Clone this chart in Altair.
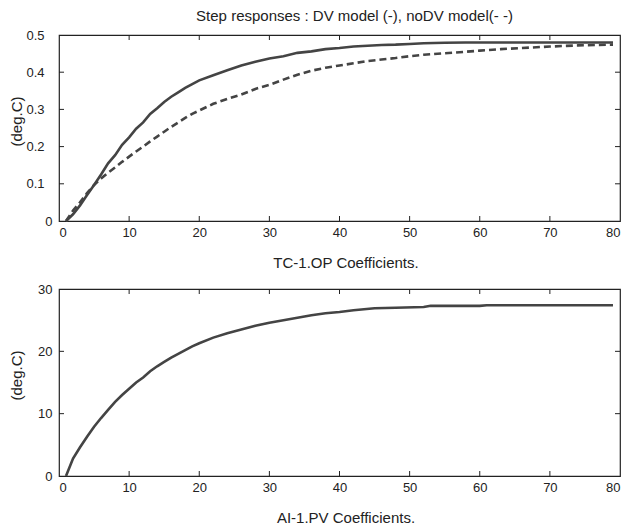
import altair as alt
import pandas as pd

# ---- data ----
dv_x = [1, 2, 3, 4, 5, 6, 7, 8, 9, 10, 11, 12, 13, 14, 15, 16, 17, 18, 19, 20,
        22, 24, 26, 28, 30, 32, 34, 36, 38, 40, 42, 44, 46, 48, 50, 52, 55, 58,
        60, 65, 70, 75, 79]
dv_y = [0.0, 0.018, 0.042, 0.07, 0.097, 0.125, 0.155, 0.177, 0.205, 0.225, 0.248,
        0.265, 0.288, 0.303, 0.32, 0.334, 0.346, 0.358, 0.368, 0.378, 0.392, 0.405,
        0.418, 0.428, 0.437, 0.443, 0.452, 0.456, 0.462, 0.465, 0.469, 0.471, 0.473,
        0.474, 0.476, 0.478, 0.479, 0.48, 0.48, 0.48, 0.48, 0.48, 0.48]

nodv_x = [1, 2, 3, 4, 5, 6, 7, 8, 9, 10, 11, 12, 13, 14, 15, 16, 17, 18, 19, 20,
          22, 24, 26, 28, 30, 32, 34, 36, 38, 40, 42, 44, 46, 48, 50, 52, 55, 58,
          60, 63, 66, 70, 74, 79]
nodv_y = [0.0, 0.028, 0.05, 0.075, 0.097, 0.114, 0.13, 0.144, 0.159, 0.173, 0.187,
          0.2, 0.214, 0.227, 0.24, 0.253, 0.265, 0.277, 0.288, 0.297, 0.315, 0.328,
          0.34, 0.355, 0.366, 0.38, 0.393, 0.404, 0.412, 0.418, 0.424, 0.43, 0.434,
          0.438, 0.443, 0.447, 0.451, 0.455, 0.458, 0.462, 0.465, 0.469, 0.472, 0.474]

ai_x = [1, 2, 3, 4, 5, 6, 7, 8, 9, 10, 11, 12, 13, 14, 15, 16, 17, 18, 19, 20,
        22, 24, 26, 28, 30, 32, 34, 36, 38, 40, 42, 45, 48, 52, 53, 60, 61, 70, 79]
ai_y = [0.0, 2.8, 4.6, 6.3, 7.9, 9.3, 10.6, 11.9, 13.0, 14.0, 15.0, 15.8, 16.8,
        17.6, 18.3, 19.0, 19.6, 20.2, 20.8, 21.3, 22.2, 22.9, 23.5, 24.1, 24.6,
        25.0, 25.4, 25.8, 26.1, 26.3, 26.6, 26.9, 27.0, 27.1, 27.3, 27.3, 27.4,
        27.4, 27.4]

x_ticks = [0, 10, 20, 30, 40, 50, 60, 70, 80]
top_y_ticks = [0, 0.1, 0.2, 0.3, 0.4, 0.5]
bot_y_ticks = [0, 10, 20, 30]

title_text = "Step responses : DV model (-), noDV model(- -)"
top_xlabel = "TC-1.OP Coefficients."
bot_xlabel = "AI-1.PV Coefficients."
ylabel = "(deg.C)"

# ---- styling ----
W = 561
FONT = "Liberation Sans"
LFS = 13
TFS = 15
INK = "#222222"
LINE = "#444444"
TICK = 5


def panel(lines, ymax, yticks, xlabel, fmt, ypad, height, title=None):
    xs = alt.Scale(domain=[0, 80], nice=False, zero=False)
    ys = alt.Scale(domain=[0, ymax], nice=False, zero=False)
    xaxis = alt.Axis(values=x_ticks, title=xlabel, ticks=False, domain=False,
                     grid=False, labelPadding=5, minExtent=20, maxExtent=20,
                     titlePadding=14, titleX=W / 2 + 6)
    yaxis = alt.Axis(values=yticks, title=ylabel, ticks=False, domain=False,
                     grid=False, format=fmt, labelPadding=ypad,
                     minExtent=35, maxExtent=35, titlePadding=0, titleY=86)
    X = alt.X("x:Q", scale=xs, axis=xaxis, title=xlabel)
    Y = alt.Y("y:Q", scale=ys, axis=yaxis, title=ylabel)
    layers = []
    for xv, yv, dash in lines:
        df = pd.DataFrame({"x": xv, "y": yv})
        kw = dict(color=LINE, strokeWidth=2.6)
        if dash:
            kw["strokeDash"] = [7, 4]
        layers.append(alt.Chart(df).mark_line(**kw).encode(x=X, y=Y))

    xt = pd.DataFrame({"x": x_ticks[1:-1]})
    yt = pd.DataFrame({"y": yticks[1:-1]})
    rule = dict(color=INK, strokeWidth=1)
    layers.append(alt.Chart(xt).mark_rule(**rule).encode(
        x=X, y=alt.value(height), y2=alt.value(height - TICK)))
    layers.append(alt.Chart(xt).mark_rule(**rule).encode(
        x=X, y=alt.value(0), y2=alt.value(TICK)))
    layers.append(alt.Chart(yt).mark_rule(**rule).encode(
        y=Y, x=alt.value(0), x2=alt.value(TICK)))
    layers.append(alt.Chart(yt).mark_rule(**rule).encode(
        y=Y, x=alt.value(W), x2=alt.value(W - TICK)))

    props = dict(width=W, height=height)
    if title:
        props["title"] = alt.TitleParams(title, font=FONT, fontSize=TFS,
                                         fontWeight="normal", color=INK,
                                         anchor="middle", offset=5, dx=15)
    return alt.layer(*layers).properties(**props)


top = panel([(dv_x, dv_y, False), (nodv_x, nodv_y, True)], 0.5, top_y_ticks,
            top_xlabel, ".1~f",
            {"condition": {"test": "datum.value === 0", "value": 7}, "value": 15},
            186, title=title_text)
bottom = panel([(ai_x, ai_y, False)], 30, bot_y_ticks, bot_xlabel, "d", 7, 187)

chart = alt.vconcat(top, bottom, spacing=11).properties(
    padding=0, background="white"
).configure_view(
    stroke=INK, strokeWidth=1.2
).configure_axis(
    labelFont=FONT, labelFontSize=LFS, labelColor=INK,
    titleFont=FONT, titleFontSize=TFS, titleColor=INK, titleFontWeight="normal"
)

chart.save("out.html", embed_options={"renderer": "svg", "actions": False})
